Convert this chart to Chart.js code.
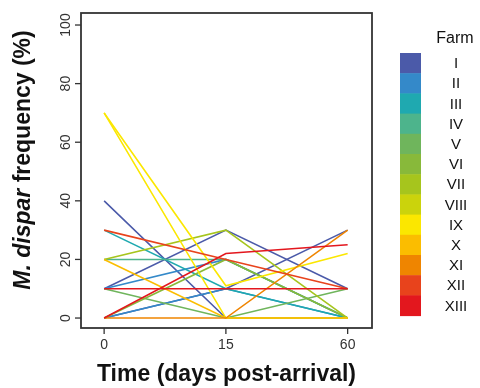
<!DOCTYPE html>
<html>
<head>
<meta charset="utf-8">
<script src="https://cdn.jsdelivr.net/npm/chart.js@4"></script>
<style>
  body { margin: 0; background: #fff; }
  #wrap { position: relative; width: 480px; height: 388px; }
</style>
</head>
<body>
<div id="wrap"><canvas id="farmChart" width="480" height="388"></canvas></div>
<script>
// sampling days (shown as evenly spaced categories)
const days = ['0', '15', '60'];
const yTicks = [0, 20, 40, 60, 80, 100];

// farms and their colours
const farms = ['I', 'II', 'III', 'IV', 'V', 'VI', 'VII', 'VIII', 'IX', 'X', 'XI', 'XII', 'XIII'];
const farmColors = ['#4b5aa9', '#3489c9', '#1fa9b0', '#4db48c', '#6fb55c', '#88b93a', '#a6c51d',
  '#cbd30c', '#fbe700', '#fbbd00', '#ef8500', '#e8431c', '#e3171e'];

// one entry per animal: farm index + frequency at each day
const animalFarm = [8, 8, 0, 0, 0, 1, 2, 1, 11, 12, 12, 6, 3, 9, 4, 10, 5];
const animalFreq = [
  [70, 11, 22],
  [70, 0, 0],
  [40, 0, 0],
  [10, 30, 10],
  [0, 10, 30],
  [0, 10, 0],
  [30, 10, 0],
  [10, 20, 0],
  [30, 20, 10],
  [10, 10, 10],
  [0, 22, 25],
  [20, 30, 0],
  [20, 20, 0],
  [20, 0, 0],
  [10, 0, 10],
  [0, 0, 30],
  [0, 20, 0]
];

const datasets = animalFreq.map((vals, i) => ({
  label: farms[animalFarm[i]],
  data: vals.map((v, j) => ({ x: j, y: v })),
  borderColor: farmColors[animalFarm[i]],
  borderWidth: 1.6,
  pointRadius: 0,
  fill: false,
  tension: 0,
  order: -animalFarm[i]
}));

const FONT = '"Liberation Sans", Arial, sans-serif';

// R-style box, ticks, labels and legend
const rAxes = {
  id: 'rAxes',
  afterDraw(chart) {
    const { ctx, chartArea: a, scales: { x, y } } = chart;
    ctx.save();
    ctx.strokeStyle = '#333';
    ctx.lineWidth = 1.8;
    ctx.strokeRect(a.left, a.top, a.right - a.left, a.bottom - a.top);

    ctx.fillStyle = '#333';
    ctx.font = '14px ' + FONT;
    ctx.lineWidth = 1.3;
    // x ticks
    ctx.textAlign = 'center';
    ctx.textBaseline = 'middle';
    days.forEach((d, i) => {
      const px = x.getPixelForValue(i);
      ctx.beginPath();
      ctx.moveTo(px, a.bottom);
      ctx.lineTo(px, a.bottom + 6);
      ctx.stroke();
      ctx.fillText(d, px, a.bottom + 17);
    });
    // y ticks (rotated labels)
    yTicks.forEach(t => {
      const py = y.getPixelForValue(t);
      ctx.beginPath();
      ctx.moveTo(a.left, py);
      ctx.lineTo(a.left - 6, py);
      ctx.stroke();
      ctx.save();
      ctx.translate(a.left - 15, py);
      ctx.rotate(-Math.PI / 2);
      ctx.fillText(String(t), 0, 0);
      ctx.restore();
    });

    // axis titles
    ctx.fillStyle = '#111';
    ctx.font = 'bold 23px ' + FONT;
    ctx.fillText('Time (days post-arrival)', (a.left + a.right) / 2, 375);

    ctx.save();
    ctx.translate(24, 160);
    ctx.rotate(-Math.PI / 2);
    const p1 = 'M. dispar', p2 = ' frequency (%)';
    ctx.font = 'italic bold 23px ' + FONT;
    const w1 = ctx.measureText(p1).width;
    ctx.font = 'bold 23px ' + FONT;
    const w2 = ctx.measureText(p2).width;
    ctx.textAlign = 'left';
    ctx.font = 'italic bold 23px ' + FONT;
    ctx.fillText(p1, -(w1 + w2) / 2, 0);
    ctx.font = 'bold 23px ' + FONT;
    ctx.fillText(p2, -(w1 + w2) / 2 + w1, 0);
    ctx.restore();

    // legend colour bar
    const top = 53, step = 20.2;
    ctx.textAlign = 'center';
    ctx.fillStyle = '#111';
    ctx.font = '16px ' + FONT;
    ctx.fillText('Farm', 455, 39);
    ctx.font = '15px ' + FONT;
    farms.forEach((f, i) => {
      ctx.fillStyle = farmColors[i];
      ctx.fillRect(400, top + i * step, 21, step + 0.5);
      ctx.fillStyle = '#111';
      ctx.fillText(f, 456, top + i * step + step / 2 + 1);
    });
    ctx.restore();
  }
};

new Chart(document.getElementById('farmChart'), {
  type: 'line',
  data: { datasets },
  options: {
    responsive: false,
    animation: false,
    layout: { padding: { left: 81, top: 13, right: 108, bottom: 60 } },
    plugins: { legend: { display: false }, tooltip: { enabled: false } },
    scales: {
      x: { type: 'linear', min: -0.19, max: 2.2, display: false },
      y: { type: 'linear', min: -3.4, max: 104.1, display: false }
    }
  },
  plugins: [rAxes]
});
</script>
</body>
</html>
